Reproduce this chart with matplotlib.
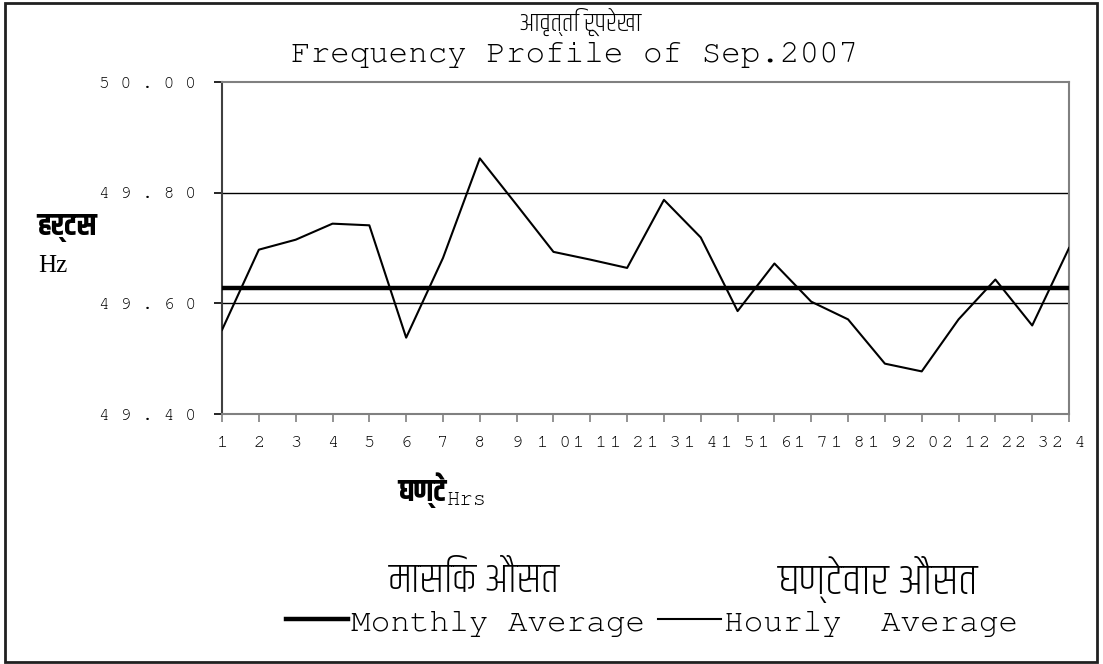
"""
Frequency profile of Sep.2007 - hourly average vs monthly average (Hz)
"""

import matplotlib
matplotlib.use('Agg')
import matplotlib.pyplot as plt
from matplotlib.patches import Rectangle
from matplotlib.ticker import FuncFormatter

# ---- data ----
hours = list(range(1, 25))
hourly_avg = [49.552, 49.697, 49.715, 49.744, 49.741, 49.538, 49.682, 49.862,
              49.778, 49.693, 49.679, 49.664, 49.787, 49.719, 49.586, 49.672,
              49.603, 49.571, 49.491, 49.477, 49.571, 49.643, 49.560, 49.700]
monthly_avg = 49.628
y_ticks = [49.40, 49.60, 49.80, 50.00]

MONO = ['FreeMono', 'Liberation Mono', 'DejaVu Sans Mono']
DEVA = ['Khand', 'FreeSerif', 'DejaVu Sans']

fig = plt.figure(figsize=(11.03, 6.64), dpi=100)
ax = fig.add_axes([0.2013, 0.3765, 0.7679, 0.5])

monthly_line, = ax.plot(hours, [monthly_avg] * len(hours), color='black',
                        linewidth=3.2, label='Monthly Average', zorder=3)
hourly_line, = ax.plot(hours, hourly_avg, color='black', linewidth=1.5,
                       label='Hourly  Average', zorder=4)

ax.set_xlim(1, 24)
ax.set_ylim(49.4, 50.0)
ax.set_xticks(hours)
ax.set_yticks(y_ticks)

# spaced-out digits like the original chart's wide tracking
ax.xaxis.set_major_formatter(FuncFormatter(lambda v, p: ' '.join(str(int(round(v))))))
ax.yaxis.set_major_formatter(FuncFormatter(lambda v, p: ' '.join(f'{v:.2f}')))

for lab in ax.get_yticklabels():
    lab.set_family(MONO)
    lab.set_fontsize(13)
for lab in ax.get_xticklabels():
    lab.set_family(MONO)
    lab.set_fontsize(13.5)

ax.tick_params(axis='y', direction='out', length=6, width=1.2, color='black', pad=13)
ax.tick_params(axis='x', direction='out', length=6, width=1.2, color='#808080', pad=10)

for y in [49.6, 49.8]:
    ax.axhline(y, color='black', linewidth=1.0, zorder=1)

for side in ['top', 'right', 'bottom']:
    ax.spines[side].set_color('#808080')
    ax.spines[side].set_linewidth(1.5)
ax.spines['left'].set_color('#404040')
ax.spines['left'].set_linewidth(1.5)

# titles
fig.text(0.526, 0.967, 'आवृत्ति रूपरेखा', ha='center', va='center',
         family=DEVA, fontsize=19, fontweight='light')
fig.text(0.521, 0.917, 'Frequency Profile of Sep.2007', ha='center', va='center',
         family=MONO, fontsize=23.5)

# y axis label
fig.text(0.034, 0.657, 'हर्टस', ha='left', va='center', family=DEVA,
         fontsize=22, fontweight='bold')
fig.text(0.035, 0.599, 'Hz', ha='left', va='center', family=['Liberation Serif'],
         fontsize=18)

# x axis label
fig.text(0.405, 0.262, 'घण्टे', ha='right', va='center', family=DEVA,
         fontsize=22, fontweight='bold')
fig.text(0.405, 0.247, 'Hrs', ha='left', va='center', family=MONO, fontsize=16)

# legend captions in Hindi
fig.text(0.430, 0.128, 'मासिक औसत', ha='center', va='center', family=DEVA,
         fontsize=30, fontweight='light')
fig.text(0.796, 0.128, 'घण्टेवार औसत', ha='center', va='center', family=DEVA,
         fontsize=32, fontweight='light')

fig.legend(handles=[monthly_line, hourly_line], loc='center',
           bbox_to_anchor=(0.591, 0.063), ncol=2, frameon=False,
           prop={'family': MONO, 'size': 23.6}, handlelength=1.9,
           handletextpad=0.1, columnspacing=0.4, borderpad=0)

# chart area border
fig.patches.append(Rectangle((5 / 1103, 2 / 664), 1092 / 1103, 659 / 664,
                             transform=fig.transFigure, fill=False,
                             edgecolor='#202020', linewidth=2))

fig.savefig('out.png', dpi=100)
